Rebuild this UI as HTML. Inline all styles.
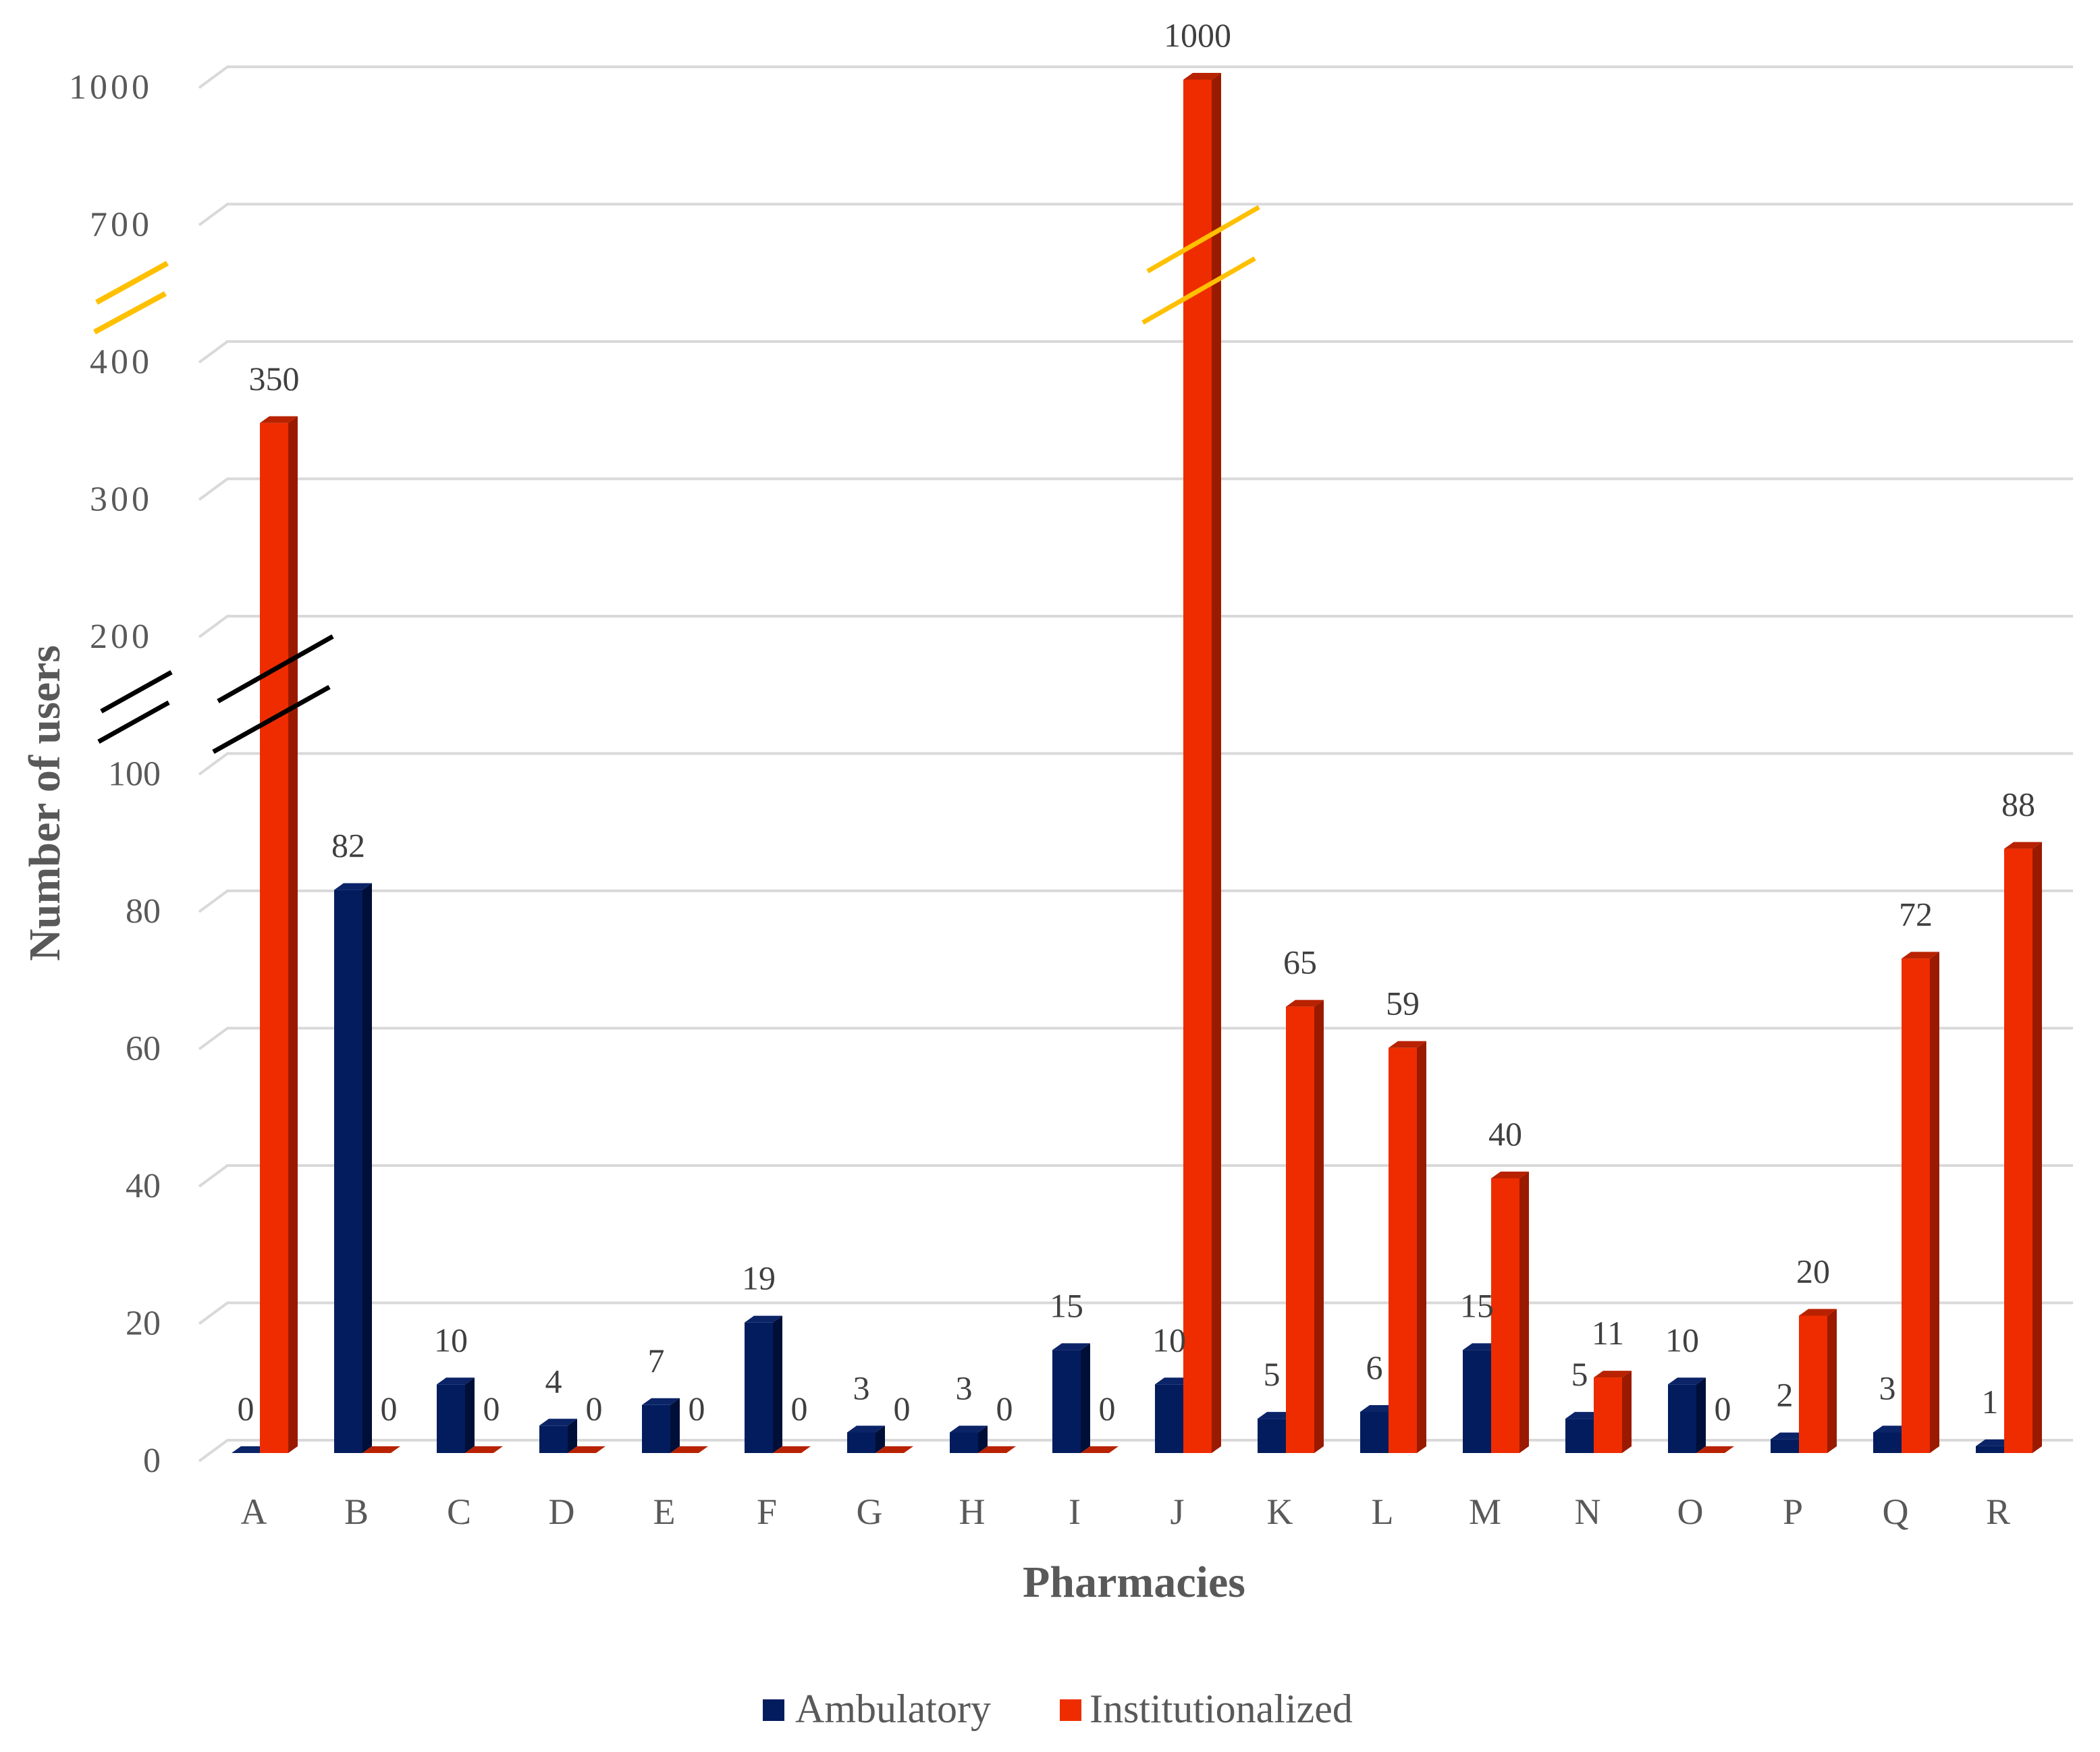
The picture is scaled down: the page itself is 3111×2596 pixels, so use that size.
<!DOCTYPE html>
<html><head><meta charset="utf-8">
<style>
html,body{margin:0;padding:0;background:#fff;}
svg{display:block;}
</style></head>
<body>
<svg id="chart" width="3111" height="2596" viewBox="0 0 3111 2596" xmlns="http://www.w3.org/2000/svg">
  <g id="grid"></g>
  <g id="bars"></g>
  <g id="breaks">
    <line x1="143" y1="448" x2="248" y2="390" stroke="#FFC000" stroke-width="8"/>
    <line x1="140" y1="492" x2="245" y2="435" stroke="#FFC000" stroke-width="8"/>
    <line x1="1700" y1="402" x2="1865" y2="307" stroke="#FFC000" stroke-width="7"/>
    <line x1="1693" y1="478" x2="1859" y2="383" stroke="#FFC000" stroke-width="7"/>
    <line x1="150" y1="1054" x2="254" y2="996" stroke="#000" stroke-width="7"/>
    <line x1="146" y1="1099" x2="250" y2="1041" stroke="#000" stroke-width="7"/>
    <line x1="323" y1="1039" x2="493" y2="943" stroke="#000" stroke-width="7"/>
    <line x1="316" y1="1114" x2="488" y2="1018" stroke="#000" stroke-width="7"/>
  </g>
  <g id="labels"></g>
  <g id="yticks"></g>
  <g id="xticks"></g>
  <text transform="translate(88,1190) rotate(-90)" text-anchor="middle" font-family="Liberation Serif, serif" font-weight="bold" font-size="66" fill="#595959">Number of users</text>
  <text x="1680" y="2366" text-anchor="middle" font-family="Liberation Serif, serif" font-weight="bold" font-size="66" fill="#595959">Pharmacies</text>
  <g>
    <g>
      <rect x="1130" y="2518" width="32" height="32" fill="#021c5e"/>
      <text x="1178" y="2552" font-family="Liberation Serif, serif" font-size="60" fill="#595959">Ambulatory</text>
    </g>
    <g>
      <rect x="1570" y="2518" width="32" height="32" fill="#ee2c00"/>
      <text x="1614" y="2552" font-family="Liberation Serif, serif" font-size="60" fill="#595959">Institutionalized</text>
    </g>
  </g>
</svg>
<script>
const categories = ["A","B","C","D","E","F","G","H","I","J","K","L","M","N","O","P","Q","R"];
const ambulatory = [0,82,10,4,7,19,3,3,15,10,5,6,15,5,10,2,3,1];
const institutionalized = [350,0,0,0,0,0,0,0,0,1000,65,59,40,11,0,20,72,88];
const tickValues = [0,20,40,60,80,100,200,300,400,700,1000];
const tickLabels = ["0","20","40","60","80","100","200","300","400","700","1000"];
const breakValues = [0,100,200,300,400,700,1000];
const breakSteps = [0,5,6,7,8,9,10];

const NS = "http://www.w3.org/2000/svg";
const STEP = 203.5;
const BASE = 2153;
const BACK0 = 2134;
function kOf(v){
  for(let i=1;i<breakValues.length;i++){
    if(v<=breakValues[i]){
      const a=breakValues[i-1], b=breakValues[i];
      return breakSteps[i-1] + (v-a)/(b-a)*(breakSteps[i]-breakSteps[i-1]);
    }
  }
  return breakSteps[breakSteps.length-1];
}
function yFront(v){ return BASE - kOf(v)*STEP; }
function yBack(v){ return BACK0 - kOf(v)*STEP; }
function xBlue(i){ return 343 + 152*i; }
function xRed(i){ return 385 + 152*i; }
function xLabel(i){ return 376 + 152*i; }
function mk(tag, attrs, parent){
  const el=document.createElementNS(NS,tag);
  for(const k in attrs) el.setAttribute(k, attrs[k]);
  parent.appendChild(el); return el;
}
const grid=document.getElementById('grid');
const bars=document.getElementById('bars');
const labels=document.getElementById('labels');
const yticks=document.getElementById('yticks');
const xticks=document.getElementById('xticks');

tickValues.forEach((v,i)=>{
  const yb=yBack(v);
  const gl=mk('polyline',{points:`295,${yb+31} 337,${yb} 3071,${yb}`,fill:'none',stroke:'#d9d9d9','stroke-width':4},grid);
  
  
  const old = v>100;
  const t=mk('text',{x:old?226:238,y:yb+31+16,'text-anchor':'end','font-family':'Liberation Serif, serif','font-size':52,'letter-spacing':old?5:0,fill:'#595959'},yticks);
  t.textContent=tickLabels[i];
  
  
});

const W=42, DX=14, DY=10;
function drawBar(x0, v, cols, name){
  const top=yFront(v);
  const g=mk('g',{},bars);
  
  
  if(BASE-top>0.5) mk('rect',{x:x0,y:top,width:W,height:BASE-top,fill:cols[0]},g);
  mk('polygon',{points:`${x0+W},${BASE} ${x0+W+DX},${BASE-DY} ${x0+W+DX},${top-DY} ${x0+W},${top}`,fill:cols[1]},g);
  mk('polygon',{points:`${x0},${top} ${x0+DX},${top-DY} ${x0+W+DX},${top-DY} ${x0+W},${top}`,fill:cols[2]},g);
  return top;
}
categories.forEach((c,i)=>{
  const tb=drawBar(xBlue(i), ambulatory[i], ['#021c5e','#000f38','#0b2468'], 'bar-ambulatory-'+c);
  const tr=drawBar(xRed(i), institutionalized[i], ['#ee2c00','#9a1a00','#b82200'], 'bar-institutionalized-'+c);
  const lb=mk('text',{x:xBlue(i)+W/2,y:tb-66+17,'text-anchor':'middle','font-family':'Liberation Serif, serif','font-size':50,fill:'#404040'},labels);
  lb.textContent=String(ambulatory[i]);
  
  
  const dx = institutionalized[i]===0 ? 18 : 0;
  const lr=mk('text',{x:xRed(i)+W/2+dx,y:tr-66+17,'text-anchor':'middle','font-family':'Liberation Serif, serif','font-size':50,fill:'#404040'},labels);
  lr.textContent=String(institutionalized[i]);
  
  
  const xl=mk('text',{x:xLabel(i),y:2258,'text-anchor':'middle','font-family':'Liberation Serif, serif','font-size':54,fill:'#595959'},xticks);
  xl.textContent=c;
  
  
});
</script>
</body></html>
